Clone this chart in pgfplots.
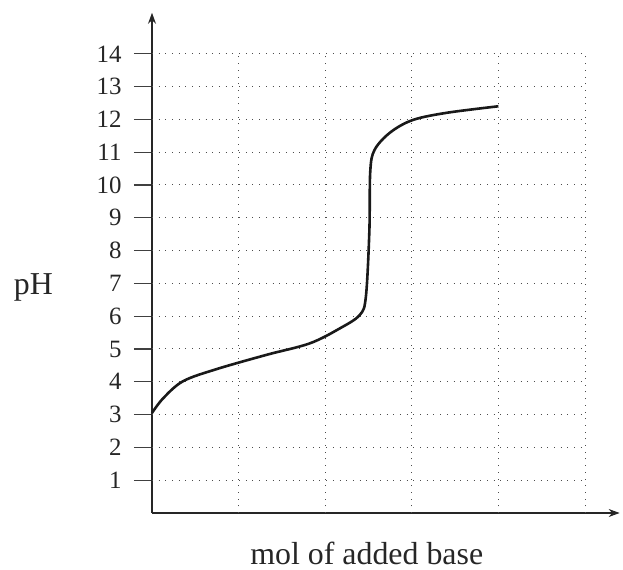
\documentclass[border=0pt]{standalone}
\usepackage{fontspec}
\setmainfont{Liberation Serif}
\usepackage{pgfplots}
\pgfplotsset{compat=1.18}
\usetikzlibrary{arrows.meta}
\begin{document}
\begin{tikzpicture}
\begin{axis}[
  x=86.6bp, y=32.8bp,
  xmin=0, xmax=5.4, ymin=0, ymax=15.25,
  axis lines=left,
  axis line style={line width=1.2bp, black!85, -{Stealth[length=11bp,width=8bp]}},
  xtick=\empty,
  ytick={1,...,14},
  tick align=outside,
  major tick length=18bp,
  tick style={line width=1.2bp, black!75},
  /pgf/number format/assume math mode=true,
  yticklabel style={font=\fontsize{25}{30}\selectfont, text=black!85, xshift=-9bp},
  clip=false,
]
\pgfplotsinvokeforeach{1,...,5}{
  \draw[black!70, line width=1bp, dash pattern=on 0.9bp off 5.8bp] (axis cs:#1,0) -- (axis cs:#1,14);
}
\pgfplotsinvokeforeach{1,...,14}{
  \draw[black!70, line width=1bp, dash pattern=on 0.9bp off 5.8bp] (axis cs:0,#1) -- (axis cs:5,#1);
}
\addplot[black!90, line width=2.6bp, smooth, tension=0.55] coordinates {
  (0,3.05) (0.13,3.5) (0.36,4.02) (0.75,4.39) (1.32,4.82) (1.82,5.17)
  (2.17,5.63) (2.40,6.04) (2.47,6.6) (2.51,8.6) (2.52,10.4) (2.57,11.07)
  (2.75,11.6) (3.01,11.98) (3.4,12.2) (4.0,12.4)
};
\node[anchor=base, font=\fontsize{32}{36}\selectfont, text=black!85] at (axis cs:-1.37,6.65) {pH};
\node[anchor=base, font=\fontsize{32}{36}\selectfont, text=black!85] at (axis cs:2.48,-1.57) {mol of added base};
\end{axis}
\pgfresetboundingbox
\path (-152bp,-57bp) rectangle (471bp,513bp);
\end{tikzpicture}
\end{document}
